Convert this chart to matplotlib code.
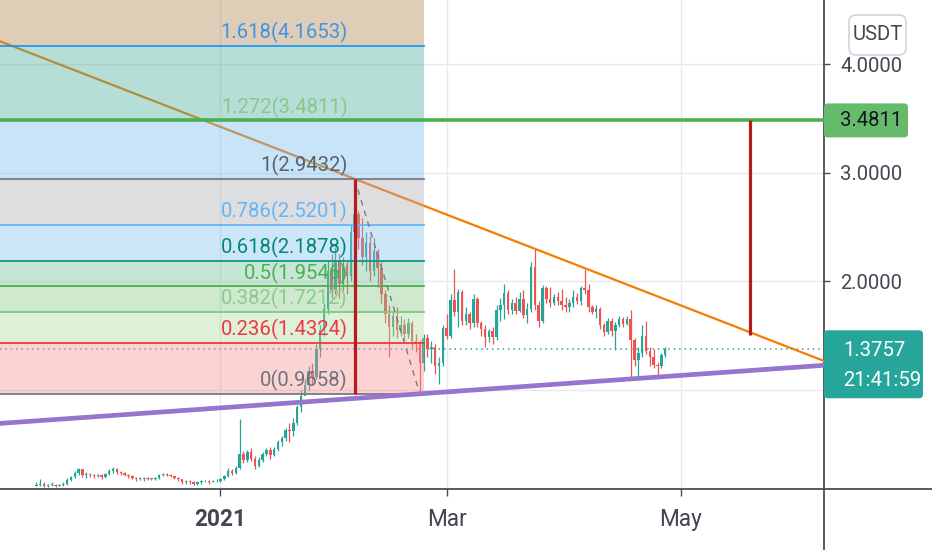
import matplotlib
matplotlib.use('Agg')
import matplotlib.pyplot as plt
import matplotlib.dates as mdates
from matplotlib import font_manager
from matplotlib.colors import to_rgb
from matplotlib.patches import FancyBboxPatch
from matplotlib.lines import Line2D
from matplotlib.transforms import IdentityTransform, offset_copy
import numpy as np
import pandas as pd

# daily candles, 14 Nov 2020 .. 27 Apr 2021 (open = previous close)
dates = pd.date_range('2020-11-14', '2021-04-27', freq='D')
first_open = 0.12
closes = [
    # Nov
    .13, .14, .12, .13, .13, .12, .13, .14, .17, .20, .24, .27, .22, .23, .22, .21, .22,
    # Dec
    .20, .23, .26, .27, .25, .24, .22, .21, .19, .18, .19, .18, .19, .18, .19, .22,
    .23, .22, .21, .19, .18, .15, .16, .15, .14, .15, .16, .16, .15, .16, .16,
    # Jan
    .18, .21, .26, .24, .28, .41, .36, .43, .37, .30, .36, .41, .45, .40, .46, .52,
    .56, .63, .62, .70, .84, .95, 1.05, 1.18, 1.12, 1.38, 1.55, 1.75, 2.10, 1.92, 2.20,
    # Feb
    1.98, 2.15, 2.05, 2.45, 2.62, 2.40, 2.22, 2.35, 2.10, 2.28, 2.12, 1.88, 1.70, 1.58,
    1.68, 1.55, 1.60, 1.52, 1.62, 1.45, 1.42, 1.25, 1.48, 1.38, 1.40, 1.22, 1.25, 1.57,
    # Mar
    1.50, 1.83, 1.72, 1.90, 1.64, 1.70, 1.62, 1.84, 1.62, 1.56, 1.49, 1.54, 1.49, 1.74,
    1.78, 1.89, 1.74, 1.80, 1.73, 1.84, 1.69, 1.75, 2.13, 1.78, 1.64, 1.94, 1.84, 1.80,
    1.86, 1.82, 1.78,
    # Apr
    1.76, 1.80, 1.86, 1.82, 1.94, 1.92, 1.76, 1.72, 1.75, 1.60, 1.53, 1.64, 1.54, 1.60,
    1.65, 1.61, 1.65, 1.46, 1.28, 1.34, 1.50, 1.36, 1.30, 1.23, 1.22, 1.32, 1.3757,
]
highs = [
    .15, .18, .15, .14, .15, .14, .14, .15, .19, .21, .26, .28, .27, .25, .24, .23, .23,
    .23, .24, .27, .29, .28, .26, .25, .23, .22, .20, .20, .20, .20, .19, .20, .23,
    .24, .24, .23, .21, .20, .18, .17, .17, .16, .16, .17, .17, .17, .17, .18,
    .19, .22, .28, .27, .30, .73, .44, .45, .47, .39, .38, .43, .47, .48, .48, .54,
    .58, .65, .70, .74, .86, 1.00, 1.10, 1.22, 1.25, 1.42, 1.60, 1.80, 2.20, 2.25, 2.32,
    2.25, 2.22, 2.20, 2.52, 2.9432, 2.65, 2.58, 2.45, 2.42, 2.40, 2.30, 2.18, 1.92, 1.78,
    1.72, 1.76, 1.68, 1.65, 1.66, 1.64, 1.52, 1.46, 1.52, 1.52, 1.45, 1.42, 1.30, 1.60,
    1.70, 1.88, 2.11, 1.93, 1.92, 1.76, 1.72, 1.88, 1.86, 1.64, 1.60, 1.56, 1.58, 1.78,
    1.85, 1.98, 1.92, 1.84, 1.86, 1.90, 1.92, 1.80, 2.18, 2.30, 1.82, 1.97, 1.96, 1.95,
    1.88, 1.90, 1.93,
    1.86, 1.84, 1.92, 1.89, 1.96, 2.11, 1.98, 1.78, 1.78, 1.76, 1.62, 1.66, 1.66, 1.63,
    1.68, 1.67, 1.68, 1.74, 1.48, 1.40, 1.60, 1.64, 1.40, 1.38, 1.26, 1.34, 1.40,
]
lows = [
    .12, .12, .11, .11, .12, .11, .12, .12, .13, .16, .19, .22, .20, .19, .20, .19, .20,
    .18, .19, .22, .24, .23, .22, .21, .19, .18, .16, .17, .16, .17, .17, .17, .18,
    .21, .21, .20, .18, .16, .14, .14, .14, .13, .13, .14, .15, .14, .15, .15,
    .15, .17, .20, .22, .23, .27, .33, .34, .35, .27, .29, .34, .39, .37, .39, .44,
    .49, .53, .52, .58, .68, .80, .9658, 1.00, 1.05, 1.10, 1.30, 1.50, 1.70, 1.85, 1.88,
    1.85, 1.92, 1.88, 2.00, 2.35, 2.30, 2.15, 2.10, 2.00, 2.05, 1.95, 1.80, 1.62, 1.30,
    1.50, 1.48, 1.50, 1.45, 1.48, 1.40, 1.35, .9658, 1.18, 1.30, 1.25, 1.15, 1.06, 1.22,
    1.47, 1.48, 1.68, 1.58, 1.60, 1.60, 1.56, 1.58, 1.58, 1.50, 1.40, 1.44, 1.42, 1.46,
    1.64, 1.65, 1.70, 1.70, 1.70, 1.72, 1.66, 1.62, 1.72, 1.74, 1.58, 1.62, 1.80, 1.76,
    1.78, 1.78, 1.74,
    1.72, 1.72, 1.76, 1.79, 1.78, 1.88, 1.72, 1.70, 1.66, 1.56, 1.50, 1.52, 1.50, 1.37,
    1.58, 1.58, 1.60, 1.11, 1.22, 1.12, 1.30, 1.33, 1.22, 1.20, 1.12, 1.20, 1.30,
]
opens = [first_open] + closes[:-1]

# trend based fib extension
fib_ratios = ['0', '0.236', '0.382', '0.5', '0.618', '0.786', '1', '1.272', '1.618']
fib_values = [0.9658, 1.4324, 1.7212, 1.9546, 2.1878, 2.5201, 2.9432, 3.4811, 4.1653]
fib_top = 6.1426  # 2.618 level, top of last zone
fib_line_colors = ['#787b86', '#f23645', '#81c784', '#4caf50', '#089981',
                   '#64b5f6', '#787b86', '#81c784', '#2196f3']
fib_label_colors = ['#6f727c', '#f23645', '#8fc98d', '#4caf50', '#00897b',
                    '#64b5f6', '#5d606b', '#8bc78a', '#3d95e6']
# how the zones look over white, from 0-0.236 up to 1.618-top
fib_fill_colors = ['#fbd3d3', '#def0d6', '#cfe9cf', '#c8e6d6', '#cde6f8',
                   '#dedee1', '#c7e4f8', '#b5ded6', '#dfcdb7']
fib_alpha = 0.4
fib_end = '2021-02-23'
label_x = '2021-02-03 06:00'

target = 3.4811
last_price = 1.3757
countdown = '21:41:59'

GREEN = '#26a69a'
RED = '#ef5350'
AXIS = '#4a4d57'
TXT = '#434651'

names = {f.name for f in font_manager.fontManager.ttflist}
if 'Liberation Sans Narrow' in names:
    FONT, K = 'Liberation Sans Narrow', 1.0
else:
    FONT, K = 'Roboto', 0.86
plt.rcParams['font.family'] = [FONT, 'DejaVu Sans']

W, H = 932, 550
fig = plt.figure(figsize=(W / 100, H / 100), dpi=100)
ax = fig.add_axes([0, 1 - 489 / H, 824 / W, 489 / H])

ax.set_xlim(mdates.date2num(pd.Timestamp('2020-11-04 12:00')),
            mdates.date2num(pd.Timestamp('2021-06-07 10:00')))
ax.set_ylim(0.09, 4.589)

x = mdates.date2num(dates)
o = np.array(opens)
c = np.array(closes)
hi = np.array(highs)
lo = np.array(lows)

# fib zones (translucent, drawn over the candles) and levels
fx0 = ax.get_xlim()[0] - 30
fx1 = mdates.date2num(pd.Timestamp(fib_end))
bounds = fib_values + [fib_top]
for i, fc in enumerate(fib_fill_colors):
    base = [(t - (1 - fib_alpha)) / fib_alpha for t in to_rgb(fc)]
    base = [min(max(v, 0), 1) for v in base]
    ax.fill_between([fx0, fx1], bounds[i], bounds[i + 1], color=base, alpha=fib_alpha,
                    lw=0, zorder=4)
lx = mdates.date2num(pd.Timestamp(label_x))
lab_tr = offset_copy(ax.transData, fig=fig, x=0, y=2, units='points')
for r, v, lc, tc in zip(fib_ratios, fib_values, fib_line_colors, fib_label_colors):
    ax.plot([fx0, fx1], [v, v], color=lc, lw=1.3, zorder=4.1)
    ax.text(lx, v, f'{r}({v:.4f})', color=tc, fontsize=17 * K, ha='right',
            va='bottom', transform=lab_tr, zorder=4.05)

# grid
ax.set_axisbelow(True)
ax.grid(True, color='#e6e9ef', lw=1)

# candles
up = c >= o
cols = np.where(up, GREEN, RED)
ax.vlines(x, lo, hi, colors=cols, lw=0.9, zorder=3)
ax.bar(x, np.maximum(np.abs(c - o), 0.006), bottom=np.minimum(o, c), width=0.64,
       color=cols, lw=0, zorder=3.1)

# drawings
i_peak = dates.get_loc(pd.Timestamp('2021-02-05'))
i_top2 = dates.get_loc(pd.Timestamp('2021-03-24'))
i_low1 = dates.get_loc(pd.Timestamp('2021-02-22'))
i_low2 = dates.get_loc(pd.Timestamp('2021-04-25'))
ax.axline((x[i_peak], hi[i_peak]), (x[i_top2], hi[i_top2]), color='#f57c00', lw=1.6,
          zorder=3.5)
ax.axline((x[i_low1], lo[i_low1]), (x[i_low2], lo[i_low2]), color='#9575cd', lw=3.4,
          zorder=4.5)
ax.plot([x[i_peak], x[i_low1]], [hi[i_peak], lo[i_low1]], color='#787b86', lw=1,
        ls=(0, (4, 4)), zorder=4.3)
move = fib_values[6] - fib_values[0]
ax.vlines(x[i_peak], fib_values[0], fib_values[6], color='#b71c1c', lw=2.3, zorder=4.6)
x_proj = mdates.date2num(pd.Timestamp('2021-05-19'))
ax.vlines(x_proj, target - move, target, color='#b71c1c', lw=2.3, zorder=4.6)
ax.axhline(target, color='#4caf50', lw=2.6, zorder=4.2)
ax.axhline(last_price, color=GREEN, lw=1.1, ls=(0, (1, 2.5)), zorder=2.5)

# axes styling
for s in ['top', 'left']:
    ax.spines[s].set_visible(False)
for s in ['right', 'bottom']:
    ax.spines[s].set_color(AXIS)
    ax.spines[s].set_linewidth(1.3)
ax.yaxis.tick_right()
ax.set_yticks([1, 2, 3, 4])
# the 1.0000 label sits under the last price tag
ax.set_yticklabels([''] + [f'{v:.4f}' for v in [2, 3, 4]])
ax.tick_params(axis='y', length=4.5, width=1, color=AXIS, pad=7,
               labelsize=17 * K, labelcolor=TXT)
xt = [pd.Timestamp('2021-01-01'), pd.Timestamp('2021-03-01'), pd.Timestamp('2021-05-01')]
ax.set_xticks(mdates.date2num(xt))
ax.set_xticklabels(['2021', 'Mar', 'May'])
ax.get_xticklabels()[0].set_fontweight('bold')
ax.tick_params(axis='x', length=5, width=1, color=AXIS, pad=9,
               labelsize=19 * K, labelcolor=TXT)

# spine extensions outside the axes
yb = 1 - 489 / H
fig.add_artist(Line2D([824 / W, 824 / W], [0, yb], transform=fig.transFigure,
                      color=AXIS, lw=1.3))
fig.add_artist(Line2D([824 / W, 1], [yb, yb], transform=fig.transFigure,
                      color=AXIS, lw=1.3))

# price scale labels (pixel coordinates)
ident = IdentityTransform()
x_ax = 824
y_t = ax.transData.transform((ax.get_xlim()[0], target))[1]
fig.add_artist(FancyBboxPatch((x_ax, y_t - 17), 84, 34, boxstyle='round,pad=0,rounding_size=4',
                              fc='#66bb6a', ec='none', transform=ident, zorder=5))
fig.text(840 / W, y_t / H, f'{target:.4f}', color='#131722', fontsize=17 * K,
         ha='left', va='center', zorder=6)

y_p = ax.transData.transform((ax.get_xlim()[0], last_price))[1]
fig.add_artist(FancyBboxPatch((x_ax, y_p - 49), 99, 68, boxstyle='round,pad=0,rounding_size=4',
                              fc=GREEN, ec='none', transform=ident, zorder=5))
fig.text(843 / W, (y_p - 1) / H, f'{last_price:.4f}', color='white', fontsize=17 * K,
         ha='left', va='center', zorder=6)
fig.text(843 / W, (y_p - 31) / H, countdown, color='white', fontsize=17 * K,
         ha='left', va='center', zorder=6)

fig.add_artist(FancyBboxPatch((849, H - 55), 57, 40, boxstyle='round,pad=0,rounding_size=7',
                              fc='white', ec='#d1d4dc', lw=1.2, transform=ident, zorder=5))
fig.text(877.5 / W, 1 - 35 / H, 'USDT', color=TXT, fontsize=17 * K,
         ha='center', va='center', zorder=6)

fig.savefig('out.png', dpi=100)
